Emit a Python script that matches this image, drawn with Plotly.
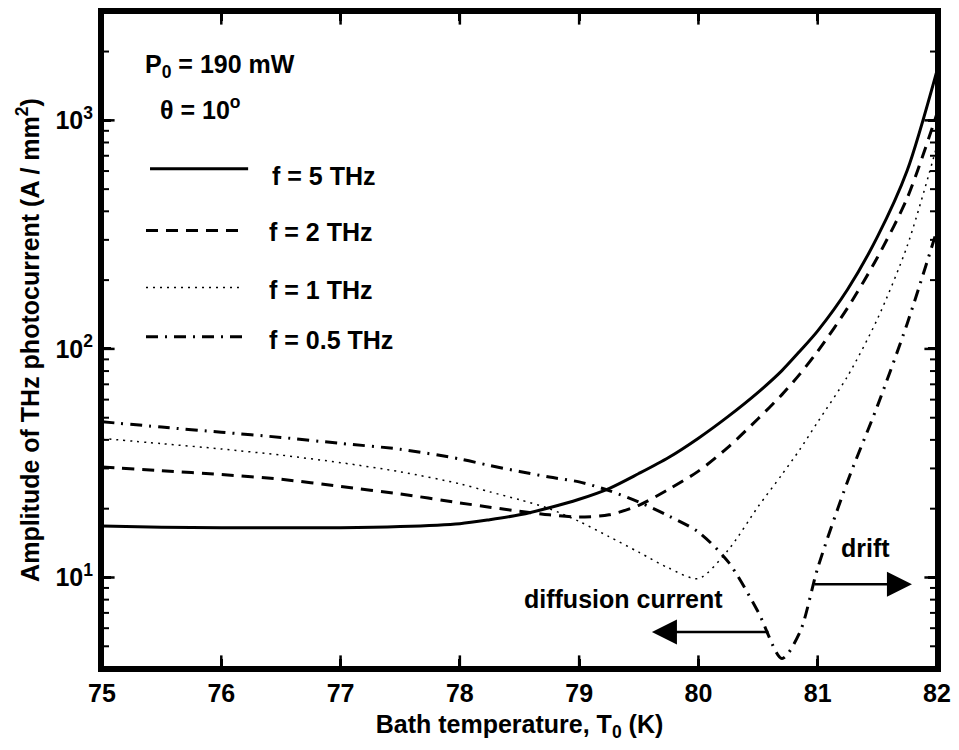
import plotly.graph_objects as go

# ---------------- data ----------------
T = [75, 75.5, 76, 76.5, 77, 77.5, 78, 78.25, 78.5, 78.75, 79, 79.25, 79.5, 79.75,
     80, 80.25, 80.5, 80.7, 80.85, 81, 81.25, 81.5, 81.75, 82]

J_5THz = [16.8, 16.6, 16.5, 16.5, 16.5, 16.7, 17.2, 17.9, 18.8, 20.2, 22.0, 24.5,
          28.5, 33.5, 40.7, 50.7, 64.6, 80.4, 97.7, 120, 182, 309, 603, 1650]
J_2THz = [30.4, 29.3, 28.2, 26.9, 25.0, 23.2, 21.2, 20.3, 19.5, 18.8, 18.4, 18.8,
          20.7, 24.3, 29.2, 37.2, 49.5, 63.1, 77.6, 97.7, 151, 251, 457, 1072]
J_1THz = [40.6, 38.5, 36.5, 34.3, 31.8, 29.0, 25.7, 23.7, 21.9, 20.0, 17.6, 15.1,
          12.9, 11.0, 9.9, 13.2, 20.4, 28.2, 36.3, 47.9, 75.9, 135, 282, 776]
J_05THz = [48, 45.5, 43.2, 41.0, 38.6, 36.4, 33.0, 30.9, 29.1, 27.5, 26.2, 24.0,
           21.4, 18.6, 15.8, 11.7, 7.08, 4.42, 5.75, 11.0, 26.3, 56.2, 129, 331]

series_names = ["f = 5 THz", "f = 2 THz", "f = 1 THz", "f = 0.5 THz"]
series_vals = [J_5THz, J_2THz, J_1THz, J_05THz]
series_dash = ["solid", "12px,8px", "2px,5px", "12px,7px,2px,7px"]
series_width = [3, 3, 1.5, 3]

x_range = [75, 82]
y_range_log = [0.604, 3.474]
x_ticks = [75, 76, 77, 78, 79, 80, 81, 82]
x_ticktext = ["<b>%d</b>" % v for v in x_ticks]
y_major = [10, 100, 1000]
y_ticktext = ["<b>10<sup>1</sup></b>", "<b>10<sup>2</sup></b>", "<b>10<sup>3</sup></b>"]
y_minor = [5, 6, 7, 8, 9, 20, 30, 40, 50, 60, 70, 80, 90,
           200, 300, 400, 500, 600, 700, 800, 900, 2000]

FONT = "Liberation Sans, Arial, sans-serif"
FS = 25
FNT = dict(family=FONT, size=FS, color="black")

fig = go.Figure()
for name, vals, dash, w in zip(series_names, series_vals, series_dash, series_width):
    fig.add_trace(go.Scatter(x=T, y=vals, mode="lines", name=name,
                             line=dict(color="black", width=w, dash=dash,
                                       shape="spline", smoothing=0.8),
                             showlegend=False))

# inward tick marks on all four sides (markers clipped to the plot area)
y_bot = 10 ** y_range_log[0]
y_top = 10 ** y_range_log[1]
tick_line = dict(color="black", width=2.5)
for yy in (y_bot, y_top):
    fig.add_trace(go.Scatter(x=x_ticks, y=[yy] * len(x_ticks), mode="markers",
                             marker=dict(symbol="line-ns", size=18, line=tick_line),
                             hoverinfo="skip", showlegend=False))
for xx in x_range:
    fig.add_trace(go.Scatter(x=[xx] * len(y_major), y=y_major, mode="markers",
                             marker=dict(symbol="line-ew", size=18, line=tick_line),
                             hoverinfo="skip", showlegend=False))
    fig.add_trace(go.Scatter(x=[xx] * len(y_minor), y=y_minor, mode="markers",
                             marker=dict(symbol="line-ew", size=10,
                                         line=dict(color="black", width=2)),
                             hoverinfo="skip", showlegend=False))

# manual legend (long line samples as in the reference)
leg_y = [0.761, 0.667, 0.580, 0.505]
leg_ty = [0.750, 0.664, 0.576, 0.500]
leg_x0 = [0.0575, 0.0527, 0.0527, 0.0527]
leg_x1 = [0.175, 0.171, 0.164, 0.171]
leg_tx = [0.201, 0.198, 0.198, 0.198]
for i, name in enumerate(series_names):
    fig.add_shape(type="line", xref="paper", yref="paper",
                  x0=leg_x0[i], x1=leg_x1[i], y0=leg_y[i], y1=leg_y[i],
                  line=dict(color="black", width=series_width[i], dash=series_dash[i]))
    fig.add_annotation(xref="paper", yref="paper", x=leg_tx[i], y=leg_ty[i],
                       text="<b>%s</b>" % name, showarrow=False,
                       xanchor="left", yanchor="middle", font=FNT)

fig.add_annotation(xref="paper", yref="paper", x=0.049, y=0.918,
                   text="<b>P<sub>0</sub> = 190 mW</b>", showarrow=False,
                   xanchor="left", yanchor="middle", font=FNT)
fig.add_annotation(xref="paper", yref="paper", x=0.067, y=0.853,
                   text="<b>θ = 10<sup>o</sup></b>", showarrow=False,
                   xanchor="left", yanchor="middle", font=FNT)

# region annotations with arrows
fig.add_annotation(x=79.37, y=0.905, xref="x", yref="y", text="<b>diffusion current</b>",
                   showarrow=False, font=FNT)
fig.add_annotation(x=81.4, y=1.13, xref="x", yref="y", text="<b>drift</b>",
                   showarrow=False, font=FNT)
fig.add_annotation(x=79.61, y=0.761, ax=80.6, ay=0.761, xref="x", yref="y",
                   axref="x", ayref="y", text="", showarrow=True,
                   arrowhead=2, arrowsize=2.0, arrowwidth=2.5, arrowcolor="black",
                   standoff=0, startstandoff=0)
fig.add_annotation(x=81.79, y=0.97, ax=80.96, ay=0.97, xref="x", yref="y",
                   axref="x", ayref="y", text="", showarrow=True,
                   arrowhead=2, arrowsize=2.0, arrowwidth=2.5, arrowcolor="black",
                   standoff=0, startstandoff=0)

# heavy plot frame as in the reference
fig.add_shape(type="rect", xref="paper", yref="paper", x0=0, x1=1, y0=0, y1=1,
              line=dict(color="black", width=4), layer="above")

fig.update_xaxes(range=x_range, tickvals=x_ticks, ticktext=x_ticktext,
                 ticks="inside", ticklen=9, tickwidth=2.5, tickcolor="black",
                 showline=True, linewidth=4, linecolor="black", mirror="allticks",
                 showgrid=False, zeroline=False, tickfont=FNT,
                 title=dict(text="<b>Bath temperature, T<sub>0</sub> (K)</b>", font=FNT,
                            standoff=10))
fig.update_yaxes(type="log", range=y_range_log, tickvals=y_major, ticktext=y_ticktext,
                 ticks="inside", ticklen=9, tickwidth=2.5, tickcolor="black",
                 showline=True, linewidth=4, linecolor="black", mirror="allticks",
                 showgrid=False, zeroline=False, tickfont=FNT,
                 title=dict(text="<b>Amplitude of THz photocurrent (A / mm<sup>2</sup>)</b>",
                            font=FNT, standoff=10))

fig.update_layout(width=959, height=750, paper_bgcolor="white", plot_bgcolor="white",
                  margin=dict(l=102, r=22, t=8, b=82), showlegend=False, font=FNT)

fig.write_html("out.html")
